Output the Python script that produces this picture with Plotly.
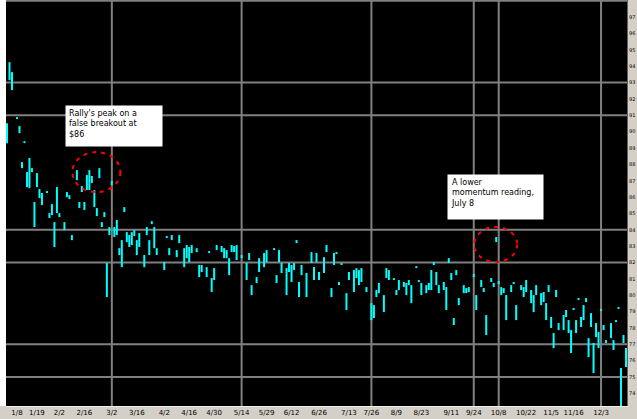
import plotly.graph_objects as go

# Daily high/low bars (trading-day index, high, low)
days = [0, 1, 2, 4, 5, 6, 7, 8, 9, 10, 11, 12, 13, 14, 16, 17, 18, 19, 20, 21,
        23, 24, 25, 26, 28, 29, 30, 31, 32, 33, 34, 35, 36, 37, 38, 39, 40, 41, 42, 43,
        44, 45, 46, 47, 48, 49, 50, 51, 52, 53, 55, 56, 57, 58, 59, 60, 63, 64, 65, 66,
        68, 69, 71, 72, 73, 74, 76, 77, 78, 80, 81, 82, 83, 84, 86, 87, 88, 89, 90, 91,
        92, 94, 96, 97, 98, 100, 101, 103, 104, 107, 108, 109, 110, 112, 113, 114, 115, 116, 117, 118,
        120, 122, 123, 124, 125, 127, 128, 130, 131, 132, 133, 134, 136, 137, 139, 140, 141, 142, 144, 146,
        147, 148, 149, 151, 152, 153, 155, 156, 157, 159, 160, 161, 162, 164, 165, 166, 168, 169, 170, 171,
        172, 173, 175, 176, 177, 178, 179, 180, 181, 183, 184, 185, 187, 188, 190, 191, 192, 194, 195, 196,
        197, 198, 199, 200, 202, 203, 204, 206, 207, 208, 210, 211, 212, 214, 215, 216, 217, 218, 219, 220,
        221, 223, 224, 225, 226, 227, 228, 229, 230, 231, 232, 233, 234, 235, 236, 237, 238, 239, 240, 242,
        243, 244, 245, 246, 247, 248]

highs = [90.52, 94.25, 93.64, 90.89, 90.34, 88.14, 89.42, 87.53, 88.39, 87.77,
         85.70, 87.47, 86.49, 86.25, 86.37, 85.02, 85.57, 84.47, 86.61, 85.02,
         84.47, 86.31, 86.12, 83.68, 87.65, 85.70, 86.67, 85.70, 87.35, 87.65,
         87.29, 86.43, 85.33, 87.77, 84.47, 85.08, 81.97, 84.17, 86.98, 84.17,
         84.60, 82.88, 83.37, 85.39, 83.86, 83.68, 83.86, 83.98, 83.37, 83.80,
         82.46, 84.17, 83.37, 84.53, 84.17, 82.88, 82.03, 83.62, 82.88, 83.68,
         82.76, 83.68, 82.88, 83.07, 82.95, 83.07, 82.88, 81.85, 81.85, 81.72,
         82.70, 81.05, 81.66, 83.07, 83.01, 82.88, 82.76, 82.27, 83.07, 83.01,
         83.07, 82.46, 81.97, 82.58, 80.62, 81.11, 82.27, 82.58, 82.76, 82.88,
         81.23, 82.76, 81.97, 81.66, 81.97, 81.85, 81.97, 83.37, 80.81, 81.85,
         81.36, 82.64, 81.72, 82.58, 81.42, 82.33, 83.07, 80.44, 82.58, 82.64,
         80.81, 81.97, 80.13, 81.42, 81.54, 81.66, 81.54, 81.66, 80.50, 79.52,
         79.40, 80.32, 80.75, 80.01, 81.66, 81.54, 81.05, 80.32, 80.93, 80.81,
         80.75, 80.93, 80.62, 81.78, 80.93, 80.75, 80.62, 80.75, 81.54, 82.03,
         81.42, 80.62, 80.81, 80.50, 82.27, 81.36, 78.61, 81.54, 79.83, 80.62,
         80.44, 80.50, 81.30, 80.01, 80.93, 80.44, 78.79, 81.05, 80.75, 83.56,
         80.87, 80.50, 80.44, 80.01, 80.62, 80.81, 79.40, 80.62, 80.50, 80.93,
         80.32, 80.01, 80.62, 80.13, 80.20, 79.52, 80.62, 78.67, 77.69, 80.32,
         78.30, 78.79, 79.10, 78.48, 77.87, 79.22, 78.48, 79.83, 78.67, 79.40,
         79.83, 77.38, 78.91, 77.08, 78.30, 77.75, 79.16, 78.18, 77.26, 78.30,
         77.26, 78.48, 79.28, 75.55, 77.57, 76.77]

lows = [89.30, 93.15, 92.54, 90.77, 89.91, 87.77, 89.30, 86.61, 86.55, 87.53,
        84.17, 86.61, 85.94, 85.51, 86.25, 84.72, 84.90, 82.95, 85.02, 84.78,
        83.98, 86.00, 85.88, 83.37, 87.04, 85.33, 86.31, 85.21, 86.43, 86.43,
        86.86, 85.39, 84.84, 87.16, 84.17, 84.78, 79.89, 83.68, 86.74, 83.56,
        83.68, 82.46, 81.72, 85.08, 83.25, 82.95, 83.07, 83.62, 82.46, 82.95,
        81.72, 83.68, 82.46, 84.35, 82.88, 82.46, 81.54, 83.50, 82.46, 83.37,
        82.33, 83.19, 81.72, 82.27, 82.03, 82.58, 82.64, 81.11, 81.42, 81.11,
        82.58, 80.20, 80.93, 82.76, 82.64, 82.27, 82.27, 81.23, 82.64, 82.64,
        82.15, 82.27, 80.93, 82.15, 80.01, 80.75, 81.42, 81.72, 82.03, 82.76,
        80.75, 82.03, 81.36, 80.01, 81.42, 80.81, 81.54, 83.19, 79.89, 81.23,
        79.89, 81.97, 80.93, 82.03, 80.93, 81.36, 82.64, 79.89, 81.85, 82.52,
        80.62, 81.85, 79.10, 80.93, 80.20, 81.05, 80.62, 80.81, 80.20, 78.48,
        78.61, 79.89, 80.13, 78.97, 81.05, 80.93, 80.93, 80.01, 80.32, 80.50,
        80.01, 80.62, 79.52, 81.66, 80.81, 80.01, 80.13, 80.32, 80.32, 81.85,
        80.62, 80.13, 80.32, 79.10, 81.97, 80.93, 78.18, 81.23, 79.40, 80.13,
        80.13, 80.20, 81.11, 79.10, 80.50, 80.20, 77.57, 80.81, 80.50, 83.25,
        80.68, 80.01, 80.13, 78.48, 80.20, 80.68, 78.48, 80.32, 79.89, 80.20,
        79.52, 78.97, 80.01, 79.40, 79.58, 78.48, 80.20, 78.00, 76.77, 79.89,
        77.87, 77.87, 78.67, 77.69, 76.47, 79.10, 77.69, 79.71, 78.06, 78.48,
        79.58, 76.22, 78.06, 75.24, 77.44, 76.77, 79.03, 77.87, 77.08, 77.38,
        76.65, 78.36, 79.16, 73.23, 77.08, 75.61]

# Bottom axis date labels
x_tick_days = [4, 12, 21, 31, 42, 52, 63, 73, 83, 94, 104, 114, 125, 137, 146, 156,
               166, 178, 187, 197, 208, 218, 227, 238]
x_tick_labels = ["1/8", "1/19", "2/2", "2/16", "3/2", "3/16", "4/2", "4/16", "4/30",
                 "5/14", "5/29", "6/12", "6/26", "7/13", "7/26", "8/9", "8/23", "9/11",
                 "9/24", "10/8", "10/22", "11/5", "11/16", "12/3"]

# Right-hand price scale
y_tick_values = list(range(74, 99))

# Reference lines drawn across the chart
grid_days = [42, 94, 146, 187, 197, 238]
grid_levels = [75, 77, 82, 84, 91, 93, 98]

# Callouts: highlighted bar and its note
callout_days = [33, 196]
callout_texts = ["Rally's peak on a<br>false breakout at<br>$86",
                 "A lower<br>momentum reading,<br>July 8"]

xs, ys = [], []
for d, h, l in zip(days, highs, lows):
    xs += [d, d, None]
    ys += [l, h, None]

fig = go.Figure()
fig.add_trace(go.Scatter(x=xs, y=ys, mode="lines",
                         line=dict(color="#00ffff", width=2),
                         hoverinfo="skip", showlegend=False))

shapes = []
for g in grid_days:
    shapes.append(dict(type="line", xref="x", yref="paper", x0=g, x1=g, y0=0, y1=1,
                       line=dict(color="#808080", width=2), layer="below"))
for g in grid_levels:
    shapes.append(dict(type="line", xref="paper", yref="y", x0=0, x1=1, y0=g, y1=g,
                       line=dict(color="#808080", width=2), layer="below"))

# left frame strip
shapes.append(dict(type="rect", xref="paper", yref="paper", x0=-0.0097, x1=0, y0=0, y1=1,
                   fillcolor="white", line=dict(width=0), layer="above"))

# dashed circles around the highlighted bars (pixel-sized, anchored to the bar high)
circle_offsets = [(-17, 31, -22, 18), (-22, 21, -25, 10)]
annotations = []
box_shift = [(-24, 65), (-49, 63)]
box_size = [(90, 34), (89, 38)]
for i, d in enumerate(callout_days):
    hi = highs[days.index(d)]
    x0, x1, y0, y1 = circle_offsets[i]
    shapes.append(dict(type="circle", xref="x", yref="y",
                       xsizemode="pixel", ysizemode="pixel",
                       xanchor=d, yanchor=hi, x0=x0, x1=x1, y0=y0, y1=y1,
                       line=dict(color="#ff0000", width=2, dash="4px,5px")))
    annotations.append(dict(x=d, y=hi, xref="x", yref="y", showarrow=False,
                            text=callout_texts[i], align="left", valign="top",
                            xanchor="left", yanchor="top",
                            xshift=box_shift[i][0], yshift=box_shift[i][1],
                            width=box_size[i][0], height=box_size[i][1],
                            bgcolor="white", borderpad=3,
                            font=dict(family="DejaVu Sans", size=8, color="black")))

fig.update_layout(
    width=637, height=419,
    margin=dict(l=6, r=10, t=0, b=13, pad=0, autoexpand=False),
    paper_bgcolor="#d4d0c8",
    plot_bgcolor="black",
    shapes=shapes,
    annotations=annotations,
    showlegend=False,
    xaxis=dict(range=[-0.4, 248.4], showgrid=False, zeroline=False, automargin=False,
               tickmode="array", tickvals=x_tick_days, ticktext=x_tick_labels,
               ticks="", tickfont=dict(family="DejaVu Sans", size=7, color="black"),
               showline=True, linecolor="#f0f0f0", linewidth=1),
    yaxis=dict(range=[73.23, 98.05], side="right", showgrid=False, zeroline=False,
               automargin=False,
               tickmode="array", tickvals=y_tick_values,
               ticktext=[str(v) for v in y_tick_values],
               ticks="", tickfont=dict(family="DejaVu Sans", size=5, color="black"),
               showline=True, linecolor="#606060", linewidth=1),
)

fig.write_html("out.html")
